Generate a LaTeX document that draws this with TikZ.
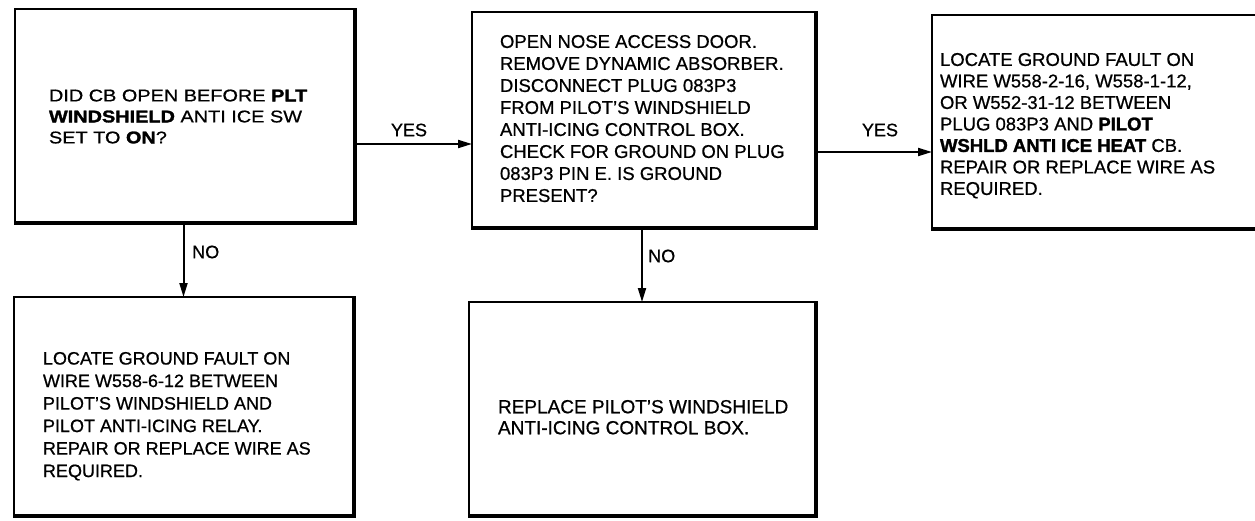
\documentclass[tikz,border=0pt]{standalone}
\usepackage{fontspec}
\setmainfont{Liberation Sans}[UprightFeatures={FakeBold=0.7}, BoldFeatures={FakeBold=1.6}]
\newfontfamily\widefont{Liberation Sans}[FakeStretch=1.17, UprightFeatures={FakeBold=0.7}, BoldFeatures={FakeBold=1.6}]
\usetikzlibrary{arrows.meta}
\tikzset{
  flowbox/.style={draw, line width=2.2pt, rectangle, inner sep=0pt, outer sep=0pt},
  boxshadow/.style={line width=4pt, line cap=rect},
  boxtext/.style={anchor=north west, inner sep=0pt, outer sep=0pt, align=left,
    font=\fontsize{18.5}{22}\selectfont},
  flowarrow/.style={line width=2pt, -{Triangle[length=14pt,width=8pt]}},
  lbl/.style={inner sep=0pt, font=\fontsize{18}{20}\selectfont}
}
\newcommand{\shadowbox}[1]{%
  \draw[boxshadow] ([shift={(1pt,-1pt)}]#1.south west) -- ([shift={(1pt,-1pt)}]#1.south east) -- ([shift={(1pt,-1pt)}]#1.north east);}
\begin{document}
\begin{tikzpicture}[x=1pt,y=-1pt]
\clip (0,0) rectangle (1255,520);
\fill[white] (0,0) rectangle (1255,520);
% boxes
\node[flowbox, minimum width=339pt, minimum height=213pt] (b1) at (184.5,115.5) {};
\node[flowbox, minimum width=343pt, minimum height=215pt] (b2) at (643.5,119.5) {};
\node[flowbox, minimum width=353pt, minimum height=213pt] (b3) at (1108.5,121.5) {};
\node[flowbox, minimum width=339pt, minimum height=218pt] (b4) at (183.5,406) {};
\node[flowbox, minimum width=346pt, minimum height=213pt] (b5) at (642,408.5) {};
\shadowbox{b1}\shadowbox{b2}\shadowbox{b3}\shadowbox{b4}\shadowbox{b5}
% texts
\node[boxtext, font=\widefont\fontsize{17}{21}\selectfont] (t1) at (49,89.5) {DID CB OPEN BEFORE \textbf{PLT}\\\textbf{WINDSHIELD} ANTI ICE SW\\SET TO \textbf{ON}?};
\node[boxtext] (t2) at (500,35) {OPEN NOSE ACCESS DOOR.\\REMOVE DYNAMIC ABSORBER.\\DISCONNECT PLUG 083P3\\FROM PILOT'S WINDSHIELD\\ANTI-ICING CONTROL BOX.\\CHECK FOR GROUND ON PLUG\\083P3 PIN E. IS GROUND\\PRESENT?};
\node[boxtext, font=\fontsize{18.5}{21.5}\selectfont] (t3) at (940,53) {LOCATE GROUND FAULT ON\\WIRE W558-2-16, W558-1-12,\\OR W552-31-12 BETWEEN\\PLUG 083P3 AND \textbf{PILOT}\\\textbf{WSHLD ANTI ICE HEAT} CB.\\REPAIR OR REPLACE WIRE AS\\REQUIRED.};
\node[boxtext, font=\fontsize{18}{22.5}\selectfont] (t4) at (43,352) {LOCATE GROUND FAULT ON\\WIRE W558-6-12 BETWEEN\\PILOT'S WINDSHIELD AND\\PILOT ANTI-ICING RELAY.\\REPAIR OR REPLACE WIRE AS\\REQUIRED.};
\node[boxtext, font=\fontsize{19}{21}\selectfont] (t5) at (498,400) {REPLACE PILOT'S WINDSHIELD\\ANTI-ICING CONTROL BOX.};
% connectors
\draw[flowarrow] ([yshift=-28.5pt]b1.east) -- ([yshift=-24.5pt]b2.west);
\draw[flowarrow] ([yshift=-32.5pt]b2.east) -- ([yshift=-30.5pt]b3.west);
\draw[flowarrow] (b4.north |- b1.south) -- (b4.north);
\draw[flowarrow] (b5.north |- b2.south) -- (b5.north);
% labels
\node[lbl] (y1) at (409,130) {YES};
\node[lbl] (y2) at (880,130) {YES};
\node[lbl, anchor=west] (n1) at (192,252) {NO};
\node[lbl, anchor=west] (n2) at (648,256) {NO};
\end{tikzpicture}
\end{document}
